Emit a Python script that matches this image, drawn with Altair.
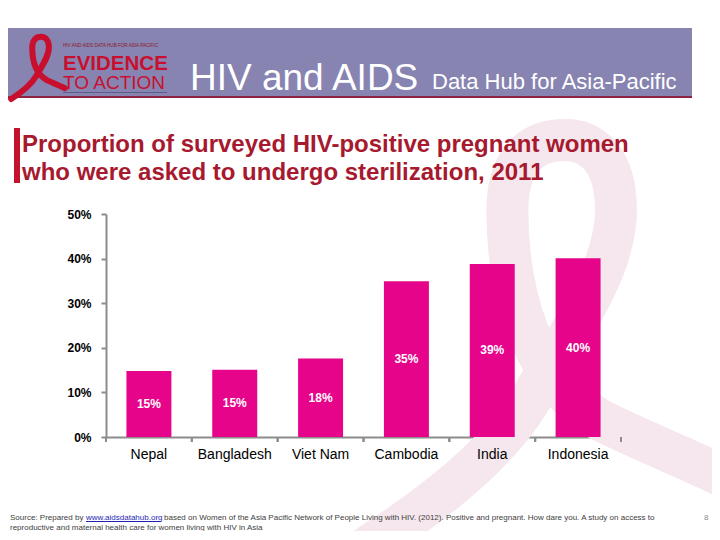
import altair as alt
import pandas as pd

# ---------------- data ----------------
countries = ["Nepal", "Bangladesh", "Viet Nam", "Cambodia", "India", "Indonesia"]
values = [14.8, 15.1, 17.6, 34.9, 38.8, 40.1]
value_labels = ["15%", "15%", "18%", "35%", "39%", "40%"]
y_ticks = [0, 10, 20, 30, 40, 50]

header_main = ["HIV and AIDS"]
header_sub = ["Data Hub for Asia-Pacific"]
logo_small = ["HIV AND AIDS DATA HUB FOR ASIA PACIFIC"]
logo_big = ["EVIDENCE"]
logo_action = ["TO ACTION"]
title_text = ["Proportion of surveyed HIV-positive pregnant women\nwho were asked to undergo sterilization, 2011"]
source_prefix = ["Source: Prepared by "]
source_link = ["www.aidsdatahub.org"]
source_rest = ["based on Women of the Asia Pacific Network of People Living with HIV. (2012). Positive and pregnant. How dare you. A study on access to"]
source_line2 = ["reproductive and maternal health care for women living with HIV in Asia"]
page_number = ["8"]

FONT = "Liberation Sans"
BAR = "#E6048A"

# awareness-ribbon outline (unit box -1..1) used for the logo and the watermark
RIBBON = ("M-0.814,1.0 C-0.488,0.791 -0.209,0.558 -0.070,0.326 "
          "C0.120,0.0 0.330,-0.279 0.330,-0.558 "
          "C0.330,-0.791 0.220,-0.884 0.093,-0.884 "
          "C-0.100,-0.884 -0.175,-0.744 -0.175,-0.558 "
          "C-0.175,-0.186 -0.070,0.233 0.256,0.419 "
          "C0.442,0.512 0.674,0.605 0.814,0.674")

df = pd.DataFrame({"country": countries, "value": values, "label": value_labels})
one = pd.DataFrame({"k": [0]})

# plot origin is at page (106, 214)
def rel_x(px):
    return px - 106

def rel_y(py):
    return py - 214


def text_layer(txt, px, py, **kw):
    opts = dict(align="left", baseline="alphabetic", font=FONT)
    opts.update(kw)
    return alt.Chart(pd.DataFrame({"t": txt})).mark_text(**opts).encode(
        x=alt.value(rel_x(px)), y=alt.value(rel_y(py)), text="t:N")


def rect_layer(x1, x2, y1, y2, color):
    return alt.Chart(one).mark_rect(color=color).encode(
        x=alt.value(rel_x(x1)), x2=alt.value(rel_x(x2)),
        y=alt.value(rel_y(y1)), y2=alt.value(rel_y(y2)))


watermark = alt.Chart(one).mark_point(
    shape=RIBBON, size=430 * 430, filled=False, color="#F5E7ED",
    strokeWidth=42, opacity=1, strokeCap="round"
).encode(x=alt.value(rel_x(545)), y=alt.value(rel_y(330)))

header = rect_layer(0, 692, 28, 96, "#8784B2")
header_line = rect_layer(0, 692, 96, 98, "#8E2443")

logo_ribbon = alt.Chart(one).mark_point(
    shape=RIBBON, size=66 * 66, filled=False, color="#C8102E",
    strokeWidth=6, opacity=1, strokeCap="round"
).encode(x=alt.value(rel_x(38)), y=alt.value(rel_y(66)))

logo_t1 = text_layer(logo_small, 63, 47, fontSize=4.6, color="#8B1A2B")
logo_t2 = text_layer(logo_big, 63, 70, fontSize=20.5, fontWeight="bold", color="#C8102E")
logo_t3 = text_layer(logo_action, 63, 89, fontSize=19, color="#C8102E")
logo_ul = rect_layer(63, 167, 92, 93, "#5A5F8A")

head1 = text_layer(header_main, 190, 90, fontSize=37, color="white")
head2 = text_layer(header_sub, 432, 89, fontSize=22, color="white")

title_bar = rect_layer(14, 20, 128, 183, "#C4122F")
title = text_layer(title_text, 22, 152, fontSize=24, fontWeight="bold", color="#A6192E",
                   lineBreak="\n", lineHeight=28)

x_scale = alt.Scale(paddingInner=0, paddingOuter=0)
x_axis = alt.Axis(labels=False, ticks=False, domainColor="#8C8C8C", domainWidth=2)
x_enc = alt.X("country:N", sort=countries, title=None, scale=x_scale, axis=x_axis)
y_axis = alt.Axis(values=y_ticks, labelExpr="datum.value + '%'", tickSize=5,
                  tickWidth=2, tickColor="#8C8C8C", domainColor="#8C8C8C",
                  domainWidth=2, grid=False, labelFont=FONT, labelFontSize=12,
                  labelFontWeight="bold", labelColor="black", labelPadding=10)
y_scale = alt.Scale(domain=[0, 50])

bars = alt.Chart(df).mark_bar(color=BAR, width=alt.RelativeBandSize(0.524)).encode(
    x=x_enc, y=alt.Y("value:Q", scale=y_scale, axis=y_axis, title=None))

labels = alt.Chart(df).transform_calculate(half="datum.value / 2").mark_text(
    color="white", font=FONT, fontSize=12, fontWeight="bold", baseline="middle"
).encode(x=x_enc, y=alt.Y("half:Q", scale=y_scale, axis=y_axis, title=None), text="label:N")

# category names under the axis
cat_labels = alt.Chart(df).mark_text(
    color="black", font=FONT, fontSize=14, baseline="top"
).encode(x=x_enc, y=alt.value(234), text="country:N")

# x-axis ticks at the category boundaries (band starts and band ends)
tick_start = alt.Chart(df).mark_rule(color="#8C8C8C", strokeWidth=2).encode(
    x=alt.X("country:N", sort=countries, scale=x_scale, bandPosition=0, axis=x_axis, title=None),
    y=alt.value(223), y2=alt.value(228))
tick_end = alt.Chart(df).mark_rule(color="#8C8C8C", strokeWidth=2).encode(
    x=alt.X("country:N", sort=countries, scale=x_scale, bandPosition=1, axis=x_axis, title=None),
    y=alt.value(223), y2=alt.value(228))

src1 = text_layer(source_prefix, 10, 520, fontSize=8, color="#404040")
src2 = text_layer(source_link, 86, 520, fontSize=8, color="#1F1FB4")
src_ul = rect_layer(86, 161, 521, 522, "#1F1FB4")
src3 = text_layer(source_rest, 164, 520, fontSize=8, color="#404040")
src4 = text_layer(source_line2, 10, 530, fontSize=8, color="#404040")
pnum = text_layer(page_number, 704, 520, fontSize=8, color="#8C8C8C")

chart = alt.layer(
    watermark, header, header_line, logo_ribbon, logo_t1, logo_t2, logo_t3, logo_ul,
    head1, head2, title_bar, title, bars, labels, cat_labels, tick_start, tick_end,
    src1, src2, src_ul, src3, src4, pnum
).properties(
    width=515, height=223,
    autosize=alt.AutoSizeParams(type="none"),
    padding={"left": 98, "top": 206, "right": 91, "bottom": 94},
).configure(background="white").configure_view(stroke=None)

chart.save("out.html", embed_options={"renderer": "svg", "actions": False})
